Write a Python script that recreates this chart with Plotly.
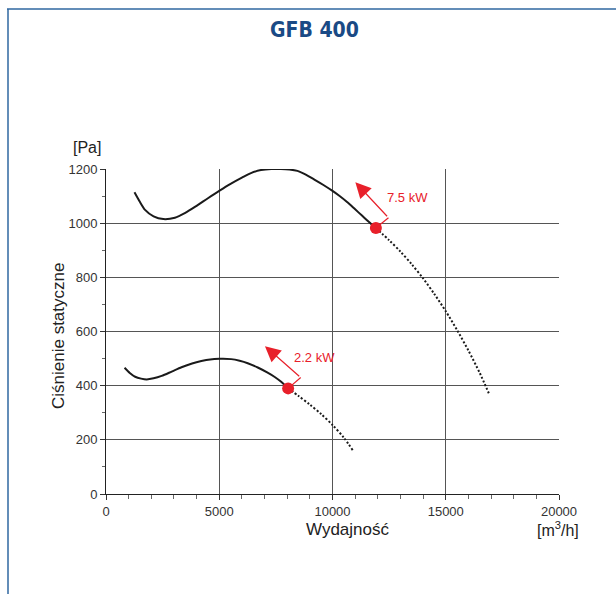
import plotly.graph_objects as go

# Upper curve (7.5 kW)
hi_x = [1257, 1500, 1725, 2100, 2529, 3041, 3500, 4000, 4500, 5015, 5500, 6000, 6400, 6842, 7300, 7719, 8100, 8450, 8800, 9181, 9600, 9985, 10300, 10643, 11000, 11300, 11600, 11915]
hi_y = [1114, 1078, 1049, 1025, 1015, 1020, 1038, 1064, 1092, 1120, 1145, 1168, 1185, 1196, 1200, 1200, 1198, 1193, 1180, 1162, 1141, 1120, 1101, 1078, 1051, 1028, 1005, 982]
hi_dot_x = [11915, 12500, 13000, 13500, 14000, 14500, 15000, 15500, 16000, 16500, 16900]
hi_dot_y = [982, 937, 895, 848, 796, 738, 675, 605, 530, 447, 372]

# Lower curve (2.2 kW)
lo_x = [819, 1050, 1287, 1550, 1798, 2100, 2456, 2900, 3333, 3800, 4210, 4600, 5015, 5526, 5900, 6257, 6700, 7134, 7450, 7719, 8041]
lo_y = [466, 447, 433, 426, 423, 427, 436, 452, 468, 482, 491, 497, 499, 498, 492, 483, 467, 448, 432, 415, 390]
lo_dot_x = [8041, 8500, 9000, 9500, 10000, 10500, 10906]
lo_dot_y = [390, 362, 330, 295, 255, 208, 160]

op_x = [11915, 8041]
op_y = [982, 390]
op_labels = ["7.5 kW", "2.2 kW"]

x_ticks = [0, 5000, 10000, 15000, 20000]
y_ticks = [0, 200, 400, 600, 800, 1000, 1200]

RED = "#e8202a"
INK = "#1a1a1a"
fig = go.Figure()
fig.add_trace(go.Scatter(x=hi_x, y=hi_y, mode="lines", line=dict(color=INK, width=2, shape="spline", smoothing=0.8), hoverinfo="skip"))
fig.add_trace(go.Scatter(x=hi_dot_x, y=hi_dot_y, mode="lines", line=dict(color=INK, width=2, dash="2px,2px", shape="spline", smoothing=0.8), hoverinfo="skip"))
fig.add_trace(go.Scatter(x=lo_x, y=lo_y, mode="lines", line=dict(color=INK, width=2, shape="spline", smoothing=0.8), hoverinfo="skip"))
fig.add_trace(go.Scatter(x=lo_dot_x, y=lo_dot_y, mode="lines", line=dict(color=INK, width=2, dash="2px,2px", shape="spline", smoothing=0.8), hoverinfo="skip"))

# arrow paths: marker -> corner, corner -> tip
corners = [(12471, 1020), (8597, 430)]
tips = [(11009, 1151), (7018, 546)]
label_pos = [(13304, 1095), (9225, 503)]
for (cx, cy), (tx, ty), (px, py), (lx, ly), lab in zip(corners, tips, zip(op_x, op_y), label_pos, op_labels):
    fig.add_trace(go.Scatter(x=[px, cx], y=[py, cy], mode="lines", line=dict(color=RED, width=1.2), hoverinfo="skip"))
    fig.add_annotation(x=tx, y=ty, ax=cx, ay=cy, xref="x", yref="y", axref="x", ayref="y",
                       showarrow=True, arrowhead=2, arrowsize=2.6, arrowwidth=1.2, arrowcolor=RED, text="")
    fig.add_annotation(x=lx, y=ly, xref="x", yref="y", text=lab, showarrow=False,
                       font=dict(family="Liberation Sans, Arial", size=13, color=RED))

fig.add_trace(go.Scatter(x=op_x, y=op_y, mode="markers", marker=dict(color=RED, size=12), hoverinfo="skip"))

W, H = 616, 594
L, R, T, B = 106, 57, 169, 100
pw, ph = W - L - R, H - T - B

def px2paper(px):
    return (px - L) / pw

def py2paper(py):
    return (H - B - py) / ph

FRAME = "#2f67a0"
fig.add_shape(type="line", xref="paper", yref="paper", x0=px2paper(7), x1=px2paper(W + 2), y0=py2paper(9), y1=py2paper(9), line=dict(color=FRAME, width=1.5))
fig.add_shape(type="line", xref="paper", yref="paper", x0=px2paper(8), x1=px2paper(8), y0=py2paper(9), y1=py2paper(H + 2), line=dict(color=FRAME, width=1.5))

def label(px, py, text, size=17, family="Liberation Sans, Arial", color="#222", angle=0):
    fig.add_annotation(xref="paper", yref="paper", x=px2paper(px), y=py2paper(py), text=text, showarrow=False,
                       xanchor="center", yanchor="middle", textangle=angle,
                       font=dict(family=family, size=size, color=color))

label(314, 30, "<b>GFB 400</b>", size=21, family="DejaVu Sans Condensed", color="#1a4a85")
label(87, 147, "[Pa]", size=16)
label(58, 336, "Ciśnienie statyczne", angle=-90)
label(347, 529, "Wydajność")
label(558, 529, "[m<sup>3</sup>/h]", size=16)

fig.update_layout(
    width=W, height=H, margin=dict(l=L, r=R, t=T, b=B),
    paper_bgcolor="white", plot_bgcolor="white", showlegend=False,
    font=dict(family="Liberation Sans, Arial", size=13, color="#333"),
)
fig.update_xaxes(range=[0, 20000], tickvals=x_ticks, ticktext=[str(v) for v in x_ticks],
                 showgrid=True, gridcolor="#555", gridwidth=1, zeroline=False,
                 showline=True, linecolor="#222", linewidth=1, ticks="outside", ticklen=5, tickcolor="#333",
                 minor=dict(dtick=1000, ticks="outside", ticklen=4, tickcolor="#666", showgrid=False),
                 fixedrange=True)
fig.update_yaxes(range=[0, 1200], tickvals=y_ticks, ticktext=[str(v) for v in y_ticks],
                 showgrid=True, gridcolor="#555", gridwidth=1, zeroline=False,
                 showline=True, linecolor="#222", linewidth=1, ticks="outside", ticklen=5, tickcolor="#333",
                 minor=dict(dtick=100, ticks="outside", ticklen=3, tickcolor="#666", showgrid=False),
                 fixedrange=True)

fig.write_html("out.html", config={"displayModeBar": False},
               post_script="document.body.style.margin='0';document.body.style.overflow='hidden';")
